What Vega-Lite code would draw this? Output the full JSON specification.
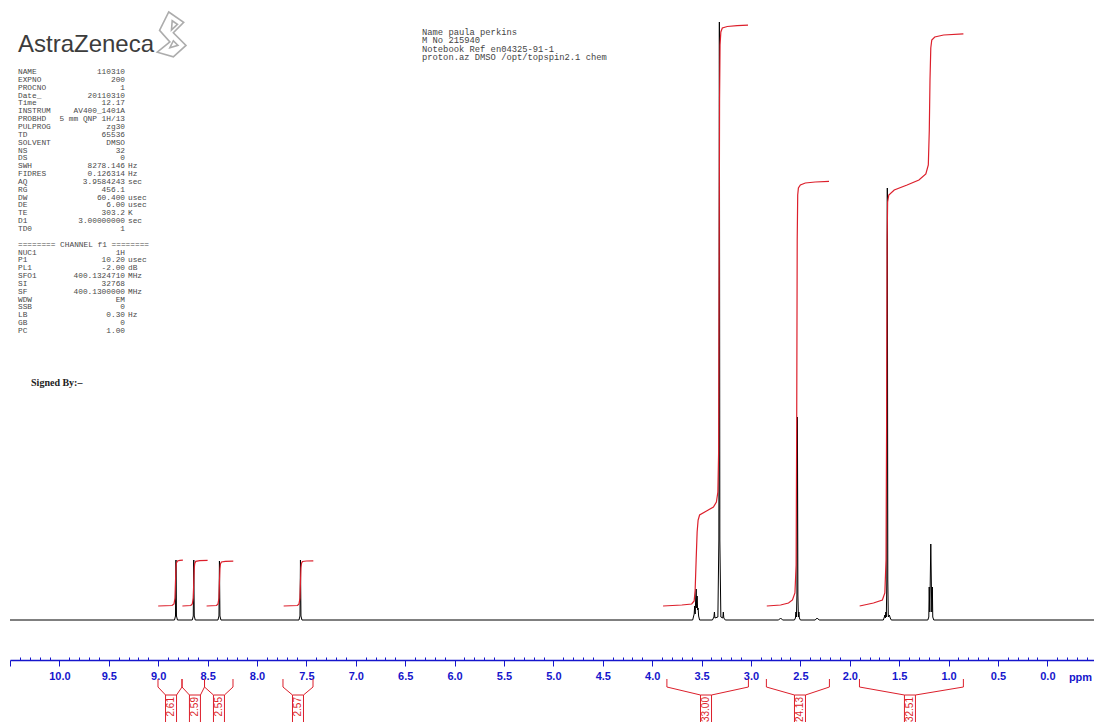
{
  "$schema": "https://vega.github.io/schema/vega-lite/v6.json",
  "width": 1084,
  "height": 660,
  "autosize": {"type": "none"},
  "padding": {"left": 10, "top": 0, "right": 0, "bottom": 62},
  "background": "white",
  "config": {"view": {"stroke": null}, "font": "Liberation Sans"},
  "datasets": {
    "spectrum": [
      {"ppm": 10.5, "intensity": 0},
      {"ppm": 8.835, "intensity": 0}, {"ppm": 8.825, "intensity": 4}, {"ppm": 8.82, "intensity": 60}, {"ppm": 8.815, "intensity": 4}, {"ppm": 8.805, "intensity": 0},
      {"ppm": 8.655, "intensity": 0}, {"ppm": 8.645, "intensity": 4}, {"ppm": 8.64, "intensity": 60}, {"ppm": 8.635, "intensity": 4}, {"ppm": 8.625, "intensity": 0},
      {"ppm": 8.395, "intensity": 0}, {"ppm": 8.385, "intensity": 4}, {"ppm": 8.38, "intensity": 59}, {"ppm": 8.375, "intensity": 4}, {"ppm": 8.365, "intensity": 0},
      {"ppm": 7.575, "intensity": 0}, {"ppm": 7.565, "intensity": 4}, {"ppm": 7.56, "intensity": 60}, {"ppm": 7.555, "intensity": 4}, {"ppm": 7.545, "intensity": 0},
      {"ppm": 3.59, "intensity": 0}, {"ppm": 3.575, "intensity": 6}, {"ppm": 3.57, "intensity": 14}, {"ppm": 3.565, "intensity": 6}, {"ppm": 3.56, "intensity": 20}, {"ppm": 3.555, "intensity": 31}, {"ppm": 3.55, "intensity": 12}, {"ppm": 3.545, "intensity": 24}, {"ppm": 3.54, "intensity": 10}, {"ppm": 3.535, "intensity": 12}, {"ppm": 3.53, "intensity": 4}, {"ppm": 3.52, "intensity": 0},
      {"ppm": 3.39, "intensity": 0}, {"ppm": 3.375, "intensity": 3}, {"ppm": 3.37, "intensity": 8}, {"ppm": 3.365, "intensity": 2}, {"ppm": 3.335, "intensity": 3}, {"ppm": 3.325, "intensity": 80}, {"ppm": 3.32, "intensity": 598}, {"ppm": 3.315, "intensity": 80}, {"ppm": 3.305, "intensity": 3}, {"ppm": 3.285, "intensity": 2}, {"ppm": 3.28, "intensity": 8}, {"ppm": 3.275, "intensity": 2}, {"ppm": 3.26, "intensity": 0},
      {"ppm": 2.72, "intensity": 0}, {"ppm": 2.70, "intensity": 2}, {"ppm": 2.68, "intensity": 0},
      {"ppm": 2.56, "intensity": 0}, {"ppm": 2.55, "intensity": 2}, {"ppm": 2.545, "intensity": 8}, {"ppm": 2.54, "intensity": 3}, {"ppm": 2.535, "intensity": 25}, {"ppm": 2.53, "intensity": 203}, {"ppm": 2.525, "intensity": 25}, {"ppm": 2.52, "intensity": 3}, {"ppm": 2.515, "intensity": 8}, {"ppm": 2.51, "intensity": 2}, {"ppm": 2.50, "intensity": 0},
      {"ppm": 2.35, "intensity": 0}, {"ppm": 2.33, "intensity": 2}, {"ppm": 2.31, "intensity": 0},
      {"ppm": 1.66, "intensity": 0}, {"ppm": 1.65, "intensity": 3}, {"ppm": 1.645, "intensity": 5}, {"ppm": 1.64, "intensity": 2}, {"ppm": 1.635, "intensity": 8}, {"ppm": 1.63, "intensity": 3}, {"ppm": 1.625, "intensity": 40}, {"ppm": 1.62, "intensity": 432}, {"ppm": 1.615, "intensity": 40}, {"ppm": 1.61, "intensity": 3}, {"ppm": 1.60, "intensity": 5}, {"ppm": 1.59, "intensity": 2}, {"ppm": 1.58, "intensity": 0},
      {"ppm": 1.21, "intensity": 0}, {"ppm": 1.20, "intensity": 3}, {"ppm": 1.196, "intensity": 33}, {"ppm": 1.19, "intensity": 8}, {"ppm": 1.18, "intensity": 76}, {"ppm": 1.17, "intensity": 8}, {"ppm": 1.164, "intensity": 33}, {"ppm": 1.16, "intensity": 3}, {"ppm": 1.15, "intensity": 0},
      {"ppm": -0.472, "intensity": 0}
    ],
    "integralCurves": [
      {"region": "a", "ppm": 9.00, "intensity": 14}, {"region": "a", "ppm": 8.86, "intensity": 14.5}, {"region": "a", "ppm": 8.84, "intensity": 16}, {"region": "a", "ppm": 8.83, "intensity": 22}, {"region": "a", "ppm": 8.825, "intensity": 38}, {"region": "a", "ppm": 8.82, "intensity": 52}, {"region": "a", "ppm": 8.815, "intensity": 57}, {"region": "a", "ppm": 8.805, "intensity": 59}, {"region": "a", "ppm": 8.78, "intensity": 59.6}, {"region": "a", "ppm": 8.75, "intensity": 59.9},
      {"region": "b", "ppm": 8.755, "intensity": 14}, {"region": "b", "ppm": 8.67, "intensity": 14.5}, {"region": "b", "ppm": 8.655, "intensity": 16}, {"region": "b", "ppm": 8.645, "intensity": 22}, {"region": "b", "ppm": 8.64, "intensity": 38}, {"region": "b", "ppm": 8.635, "intensity": 52}, {"region": "b", "ppm": 8.63, "intensity": 56.5}, {"region": "b", "ppm": 8.62, "intensity": 58.6}, {"region": "b", "ppm": 8.58, "intensity": 59.3}, {"region": "b", "ppm": 8.50, "intensity": 59.6},
      {"region": "c", "ppm": 8.51, "intensity": 14}, {"region": "c", "ppm": 8.41, "intensity": 14.5}, {"region": "c", "ppm": 8.395, "intensity": 16}, {"region": "c", "ppm": 8.385, "intensity": 22}, {"region": "c", "ppm": 8.38, "intensity": 38}, {"region": "c", "ppm": 8.375, "intensity": 51}, {"region": "c", "ppm": 8.37, "intensity": 56}, {"region": "c", "ppm": 8.36, "intensity": 58}, {"region": "c", "ppm": 8.32, "intensity": 58.6}, {"region": "c", "ppm": 8.24, "intensity": 58.9},
      {"region": "d", "ppm": 7.73, "intensity": 14}, {"region": "d", "ppm": 7.59, "intensity": 14.5}, {"region": "d", "ppm": 7.575, "intensity": 16}, {"region": "d", "ppm": 7.565, "intensity": 22}, {"region": "d", "ppm": 7.56, "intensity": 38}, {"region": "d", "ppm": 7.555, "intensity": 52}, {"region": "d", "ppm": 7.55, "intensity": 56.5}, {"region": "d", "ppm": 7.54, "intensity": 58.5}, {"region": "d", "ppm": 7.50, "intensity": 59}, {"region": "d", "ppm": 7.43, "intensity": 59.2},
      {"region": "e", "ppm": 3.89, "intensity": 14}, {"region": "e", "ppm": 3.70, "intensity": 15}, {"region": "e", "ppm": 3.60, "intensity": 16}, {"region": "e", "ppm": 3.575, "intensity": 19}, {"region": "e", "ppm": 3.565, "intensity": 30}, {"region": "e", "ppm": 3.555, "intensity": 60}, {"region": "e", "ppm": 3.545, "intensity": 88}, {"region": "e", "ppm": 3.535, "intensity": 100}, {"region": "e", "ppm": 3.52, "intensity": 105}, {"region": "e", "ppm": 3.45, "intensity": 109}, {"region": "e", "ppm": 3.38, "intensity": 113}, {"region": "e", "ppm": 3.35, "intensity": 118}, {"region": "e", "ppm": 3.335, "intensity": 128}, {"region": "e", "ppm": 3.327, "intensity": 170}, {"region": "e", "ppm": 3.322, "intensity": 350}, {"region": "e", "ppm": 3.318, "intensity": 520}, {"region": "e", "ppm": 3.313, "intensity": 575}, {"region": "e", "ppm": 3.305, "intensity": 588}, {"region": "e", "ppm": 3.29, "intensity": 592}, {"region": "e", "ppm": 3.24, "intensity": 593.5}, {"region": "e", "ppm": 3.14, "intensity": 594.3}, {"region": "e", "ppm": 3.03, "intensity": 594.8},
      {"region": "f", "ppm": 2.84, "intensity": 14}, {"region": "f", "ppm": 2.70, "intensity": 15}, {"region": "f", "ppm": 2.62, "intensity": 17}, {"region": "f", "ppm": 2.58, "intensity": 20}, {"region": "f", "ppm": 2.555, "intensity": 27}, {"region": "f", "ppm": 2.543, "intensity": 55}, {"region": "f", "ppm": 2.537, "intensity": 200}, {"region": "f", "ppm": 2.532, "intensity": 380}, {"region": "f", "ppm": 2.527, "intensity": 425}, {"region": "f", "ppm": 2.52, "intensity": 432}, {"region": "f", "ppm": 2.50, "intensity": 435}, {"region": "f", "ppm": 2.45, "intensity": 437}, {"region": "f", "ppm": 2.35, "intensity": 438}, {"region": "f", "ppm": 2.21, "intensity": 438.7},
      {"region": "g", "ppm": 1.90, "intensity": 14}, {"region": "g", "ppm": 1.76, "intensity": 17}, {"region": "g", "ppm": 1.67, "intensity": 20}, {"region": "g", "ppm": 1.645, "intensity": 27}, {"region": "g", "ppm": 1.633, "intensity": 60}, {"region": "g", "ppm": 1.627, "intensity": 200}, {"region": "g", "ppm": 1.622, "intensity": 380}, {"region": "g", "ppm": 1.617, "intensity": 418}, {"region": "g", "ppm": 1.605, "intensity": 425}, {"region": "g", "ppm": 1.55, "intensity": 430}, {"region": "g", "ppm": 1.42, "intensity": 435}, {"region": "g", "ppm": 1.30, "intensity": 440}, {"region": "g", "ppm": 1.23, "intensity": 446}, {"region": "g", "ppm": 1.205, "intensity": 455}, {"region": "g", "ppm": 1.195, "intensity": 490}, {"region": "g", "ppm": 1.188, "intensity": 540}, {"region": "g", "ppm": 1.18, "intensity": 572}, {"region": "g", "ppm": 1.17, "intensity": 580}, {"region": "g", "ppm": 1.14, "intensity": 583}, {"region": "g", "ppm": 1.05, "intensity": 585}, {"region": "g", "ppm": 0.85, "intensity": 586.2}
    ],
    "integrals": [
      {"from": 9.002, "to": 8.759, "at": 8.870, "value": 2.61},
      {"from": 8.759, "to": 8.531, "at": 8.628, "value": 2.59},
      {"from": 8.531, "to": 8.243, "at": 8.385, "value": 2.55},
      {"from": 7.737, "to": 7.433, "at": 7.585, "value": 2.57},
      {"from": 3.851, "to": 3.026, "at": 3.455, "value": 33.00},
      {"from": 2.844, "to": 2.206, "at": 2.504, "value": 24.13},
      {"from": 1.902, "to": 0.850, "at": 1.391, "value": 32.51}
    ],
    "acqus": [
      {"row": 0, "name": "NAME", "value": "110310", "unit": ""},
      {"row": 1, "name": "EXPNO", "value": "200", "unit": ""},
      {"row": 2, "name": "PROCNO", "value": "1", "unit": ""},
      {"row": 3, "name": "Date_", "value": "20110310", "unit": ""},
      {"row": 4, "name": "Time", "value": "12.17", "unit": ""},
      {"row": 5, "name": "INSTRUM", "value": "AV400_1401A", "unit": ""},
      {"row": 6, "name": "PROBHD", "value": "5 mm QNP 1H/13", "unit": ""},
      {"row": 7, "name": "PULPROG", "value": "zg30", "unit": ""},
      {"row": 8, "name": "TD", "value": "65536", "unit": ""},
      {"row": 9, "name": "SOLVENT", "value": "DMSO", "unit": ""},
      {"row": 10, "name": "NS", "value": "32", "unit": ""},
      {"row": 11, "name": "DS", "value": "0", "unit": ""},
      {"row": 12, "name": "SWH", "value": "8278.146", "unit": "Hz"},
      {"row": 13, "name": "FIDRES", "value": "0.126314", "unit": "Hz"},
      {"row": 14, "name": "AQ", "value": "3.9584243", "unit": "sec"},
      {"row": 15, "name": "RG", "value": "456.1", "unit": ""},
      {"row": 16, "name": "DW", "value": "60.400", "unit": "usec"},
      {"row": 17, "name": "DE", "value": "6.00", "unit": "usec"},
      {"row": 18, "name": "TE", "value": "303.2", "unit": "K"},
      {"row": 19, "name": "D1", "value": "3.00000000", "unit": "sec"},
      {"row": 20, "name": "TD0", "value": "1", "unit": ""},
      {"row": 22, "name": "======== CHANNEL f1 ========", "value": "", "unit": ""},
      {"row": 23, "name": "NUC1", "value": "1H", "unit": ""},
      {"row": 24, "name": "P1", "value": "10.20", "unit": "usec"},
      {"row": 25, "name": "PL1", "value": "-2.00", "unit": "dB"},
      {"row": 26, "name": "SFO1", "value": "400.1324710", "unit": "MHz"},
      {"row": 27, "name": "SI", "value": "32768", "unit": ""},
      {"row": 28, "name": "SF", "value": "400.1300000", "unit": "MHz"},
      {"row": 29, "name": "WDW", "value": "EM", "unit": ""},
      {"row": 30, "name": "SSB", "value": "0", "unit": ""},
      {"row": 31, "name": "LB", "value": "0.30", "unit": "Hz"},
      {"row": 32, "name": "GB", "value": "0", "unit": ""},
      {"row": 33, "name": "PC", "value": "1.00", "unit": ""}
    ],
    "header": [
      {"row": 0, "line": "Name paula perkins"},
      {"row": 1, "line": "M No 215940"},
      {"row": 2, "line": "Notebook Ref en04325-91-1"},
      {"row": 3, "line": "proton.az DMSO /opt/topspin2.1 chem"}
    ]
  },
  "resolve": {"scale": {"y": "independent"}},
  "layer": [
    {
      "layer": [
        {
          "data": {"name": "spectrum"},
          "mark": {"type": "line", "color": "#000000", "strokeWidth": 1, "interpolate": "linear"},
          "encoding": {
            "x": {
              "field": "ppm", "type": "quantitative",
              "scale": {"domain": [-0.472, 10.5], "reverse": true, "nice": false, "zero": false},
              "axis": {
                "values": [10.5,10.4,10.3,10.2,10.1,10.0,9.9,9.8,9.7,9.6,9.5,9.4,9.3,9.2,9.1,9.0,8.9,8.8,8.7,8.6,8.5,8.4,8.3,8.2,8.1,8.0,7.9,7.8,7.7,7.6,7.5,7.4,7.3,7.2,7.1,7.0,6.9,6.8,6.7,6.6,6.5,6.4,6.3,6.2,6.1,6.0,5.9,5.8,5.7,5.6,5.5,5.4,5.3,5.2,5.1,5.0,4.9,4.8,4.7,4.6,4.5,4.4,4.3,4.2,4.1,4.0,3.9,3.8,3.7,3.6,3.5,3.4,3.3,3.2,3.1,3.0,2.9,2.8,2.7,2.6,2.5,2.4,2.3,2.2,2.1,2.0,1.9,1.8,1.7,1.6,1.5,1.4,1.3,1.2,1.1,1.0,0.9,0.8,0.7,0.6,0.5,0.4,0.3,0.2,0.1,0.0,-0.1,-0.2,-0.3,-0.4],
                "tickCount": 500,
                "labelExpr": "datum.value <= 10.01 && abs(round(datum.value * 10)) % 5 == 0 ? format(datum.value, '.1f') : ''",
                "labelFont": "Liberation Sans", "labelFontSize": 11, "labelFontWeight": "bold", "labelColor": "#1515cc",
                "labelPadding": 4, "labelOverlap": false, "labelFlush": false, "labelBound": false,
                "domainColor": "#1515cc", "domainWidth": 1.5,
                "tickColor": "#1515cc", "tickWidth": 1,
                "tickSize": {"condition": {"test": "abs(round(datum.value * 10)) % 5 == 0", "value": 6}, "value": -3},
                "grid": false,
                "title": "ppm", "titleX": 1070, "titleY": 11, "titleBaseline": "top", "titleAlign": "center",
                "titleFont": "Liberation Sans", "titleFontSize": 11, "titleFontWeight": "bold", "titleColor": "#1515cc"
              }
            },
            "y": {"field": "intensity", "type": "quantitative", "scale": {"domain": [-40, 620], "nice": false, "zero": false}, "axis": null}
          }
        },
        {
          "data": {"name": "integralCurves"},
          "mark": {"type": "line", "color": "#dc1f2b", "strokeWidth": 1.2},
          "encoding": {
            "x": {"field": "ppm", "type": "quantitative"},
            "y": {"field": "intensity", "type": "quantitative"},
            "detail": {"field": "region", "type": "nominal"}
          }
        },
        {
          "data": {"name": "integrals"},
          "mark": {"type": "rule", "color": "#dc1f2b", "strokeWidth": 1},
          "encoding": {"x": {"field": "from", "type": "quantitative"}, "y": {"datum": -59}, "y2": {"datum": -67}}
        },
        {
          "data": {"name": "integrals"},
          "mark": {"type": "rule", "color": "#dc1f2b", "strokeWidth": 1},
          "encoding": {"x": {"field": "to", "type": "quantitative"}, "y": {"datum": -59}, "y2": {"datum": -67}}
        },
        {
          "data": {"name": "integrals"},
          "mark": {"type": "rule", "color": "#dc1f2b", "strokeWidth": 1, "x2Offset": -5.5},
          "encoding": {"x": {"field": "from", "type": "quantitative"}, "x2": {"field": "at"}, "y": {"datum": -67}, "y2": {"datum": -75}}
        },
        {
          "data": {"name": "integrals"},
          "mark": {"type": "rule", "color": "#dc1f2b", "strokeWidth": 1, "x2Offset": 5.5},
          "encoding": {"x": {"field": "to", "type": "quantitative"}, "x2": {"field": "at"}, "y": {"datum": -67}, "y2": {"datum": -75}}
        },
        {
          "data": {"name": "integrals"},
          "mark": {"type": "rect", "fill": "white", "stroke": "#dc1f2b", "strokeWidth": 1, "xOffset": -5.5, "x2Offset": 5.5},
          "encoding": {"x": {"field": "at", "type": "quantitative"}, "x2": {"field": "at"}, "y": {"datum": -75}, "y2": {"datum": -140}}
        },
        {
          "data": {"name": "integrals"},
          "mark": {"type": "text", "angle": 270, "align": "right", "baseline": "middle", "font": "Liberation Sans", "fontSize": 10, "color": "#dc1f2b"},
          "encoding": {
            "x": {"field": "at", "type": "quantitative"},
            "y": {"datum": -77},
            "text": {"field": "value", "type": "quantitative", "format": ".2f"}
          }
        },
        {
          "data": {"values": [{}]},
          "mark": {"type": "text", "align": "left", "baseline": "alphabetic", "font": "Liberation Sans", "fontSize": 24, "color": "#3c3c3c"},
          "encoding": {"x": {"datum": 10.419}, "y": {"datum": 568}, "text": {"value": "AstraZeneca"}}
        },
        {
          "data": {"values": [{}]},
          "mark": {
            "type": "point", "filled": false, "stroke": "#8a8a8a", "strokeWidth": 1.6, "size": 2116,
            "shape": "M -0.1 -1 L 0.55 -0.55 L 0.1 -0.1 L 0.65 0.45 L 0.1 0.95 L -0.6 0.75 L -0.05 0.3 L -0.5 -0.2 Z M 0.05 -0.62 L 0.28 -0.46 L 0.02 -0.22 Z M -0.05 0.55 L 0.3 0.45 L 0.1 0.25 Z"
          },
          "encoding": {"x": {"datum": 8.87}, "y": {"datum": 585}}
        },
        {
          "data": {"values": [{}]},
          "mark": {"type": "text", "align": "left", "baseline": "alphabetic", "font": "Liberation Serif", "fontSize": 10, "fontWeight": "bold", "color": "#222222"},
          "encoding": {"x": {"datum": 10.287}, "y": {"datum": 234}, "text": {"value": "Signed By:–"}}
        }
      ]
    },
    {
      "data": {"name": "acqus"},
      "encoding": {
        "y": {"field": "row", "type": "quantitative", "scale": {"domain": [-9.427, 74.65], "reverse": true, "nice": false, "zero": false}, "axis": null}
      },
      "layer": [
        {
          "mark": {"type": "text", "align": "left", "baseline": "alphabetic", "font": "Liberation Mono", "fontSize": 7.8, "color": "#4a4a4a"},
          "encoding": {"x": {"datum": 10.419}, "text": {"field": "name", "type": "nominal"}}
        },
        {
          "mark": {"type": "text", "align": "right", "baseline": "alphabetic", "font": "Liberation Mono", "fontSize": 7.8, "color": "#4a4a4a"},
          "encoding": {"x": {"datum": 9.336}, "text": {"field": "value", "type": "nominal"}}
        },
        {
          "mark": {"type": "text", "align": "left", "baseline": "alphabetic", "font": "Liberation Mono", "fontSize": 7.8, "color": "#4a4a4a"},
          "encoding": {"x": {"datum": 9.306}, "text": {"field": "unit", "type": "nominal"}}
        }
      ]
    },
    {
      "data": {"name": "header"},
      "mark": {"type": "text", "align": "left", "baseline": "alphabetic", "font": "Liberation Mono", "fontSize": 8.8, "color": "#444444"},
      "encoding": {
        "x": {"datum": 6.33},
        "y": {"field": "row", "type": "quantitative", "scale": {"domain": [-4.167, 74.405], "reverse": true, "nice": false, "zero": false}, "axis": null},
        "text": {"field": "line", "type": "nominal"}
      }
    }
  ]
}
